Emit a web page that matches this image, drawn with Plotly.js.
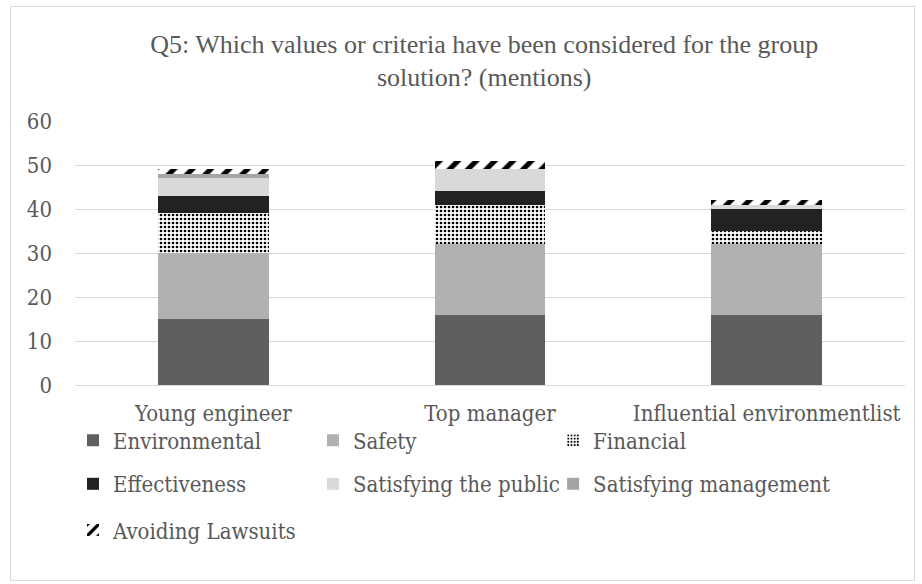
<!DOCTYPE html>
<html><head><meta charset="utf-8">
<script src="https://cdn.plot.ly/plotly-3.0.1.min.js"></script>
<style>
html,body{margin:0;padding:0;background:#fff;}
#chart{width:922px;height:584px;}
#frame{position:absolute;left:10px;top:6px;width:905px;height:575px;border:1px solid #d9d9d9;pointer-events:none;box-sizing:border-box;}
</style></head>
<body>
<div id="chart"></div>
<div id="frame"></div>
<script>
var categories = ["Young engineer", "Top manager", "Influential environmentlist"];
var environmental = [15, 16, 16];
var safety = [15, 16, 16];
var financial = [9, 9, 3];
var effectiveness = [4, 3, 5];
var satisfyingPublic = [4, 5, 1];
var satisfyingManagement = [1, 0, 0];
var avoidingLawsuits = [1, 2, 1];
var yTicks = [0, 10, 20, 30, 40, 50, 60];

var tickFont = {family: "DejaVu Serif Condensed, DejaVu Serif, serif", size: 22, color: "#595959"};
var legFont = {family: "DejaVu Serif Condensed, DejaVu Serif, serif", size: 22, color: "#595959"};

function bar(name, y, color, legend, pattern) {
  var m = {color: color, line: {width: 0}};
  if (pattern) m.pattern = pattern;
  return {type: "bar", name: name, x: categories, y: y, marker: m, width: 0.4, legend: legend};
}

var data = [
  bar("Environmental", environmental, "#5f5f5f", "legend"),
  bar("Safety", safety, "#b1b1b1", "legend2"),
  bar("Financial", financial, "#ffffff", "legend3", {shape: ".", fgcolor: "#000000", bgcolor: "#ffffff", size: 4, solidity: 0.35, fillmode: "replace"}),
  bar("Effectiveness", effectiveness, "#222222", "legend4"),
  bar("Satisfying the public", satisfyingPublic, "#d9d9d9", "legend5"),
  bar("Satisfying management", satisfyingManagement, "#a5a5a5", "legend6"),
  bar("Avoiding Lawsuits", avoidingLawsuits, "#ffffff", "legend7", {shape: "/", fgcolor: "#000000", bgcolor: "#ffffff", size: 13, solidity: 0.4, fillmode: "replace"})
];

var colX = [-0.0024, 0.2867, 0.576];
var rowY = [-0.21, -0.375, -0.55];
function leg(c, r) {
  return {orientation: "h", x: colX[c], xanchor: "left", y: rowY[r], yanchor: "middle",
    font: legFont, itemwidth: 30, bgcolor: "rgba(0,0,0,0)"};
}

var layout = {
  width: 922, height: 584,
  margin: {l: 75, r: 17, t: 121, b: 199},
  paper_bgcolor: "#ffffff", plot_bgcolor: "#ffffff",
  barmode: "stack", bargap: 0.6,
  title: {text: "Q5: Which values or criteria have been considered for the group<br>solution? (mentions)",
    font: {family: "Liberation Serif, serif", size: 26, color: "#595959"},
    xref: "paper", x: 0.493, xanchor: "center", yref: "container", y: 0.91, yanchor: "top"},
  xaxis: {type: "category", tickfont: tickFont, showline: true, linecolor: "#d9d9d9", linewidth: 1,
    ticks: "", showgrid: false, ticklabelstandoff: 9},
  yaxis: {range: [0, 60], tickvals: yTicks, ticktext: yTicks.map(String), tickfont: tickFont,
    showgrid: true, gridcolor: "#d9d9d9", gridwidth: 1, zeroline: false, ticks: "", ticklabelstandoff: 22, showline: false},
  showlegend: true,
  legend: leg(0, 0),
  legend2: leg(1, 0),
  legend3: leg(2, 0),
  legend4: leg(0, 1),
  legend5: leg(1, 1),
  legend6: leg(2, 1),
  legend7: leg(0, 2),
  font: tickFont
};

Plotly.newPlot("chart", data, layout, {displayModeBar: false, staticPlot: true});
</script>
</body></html>
